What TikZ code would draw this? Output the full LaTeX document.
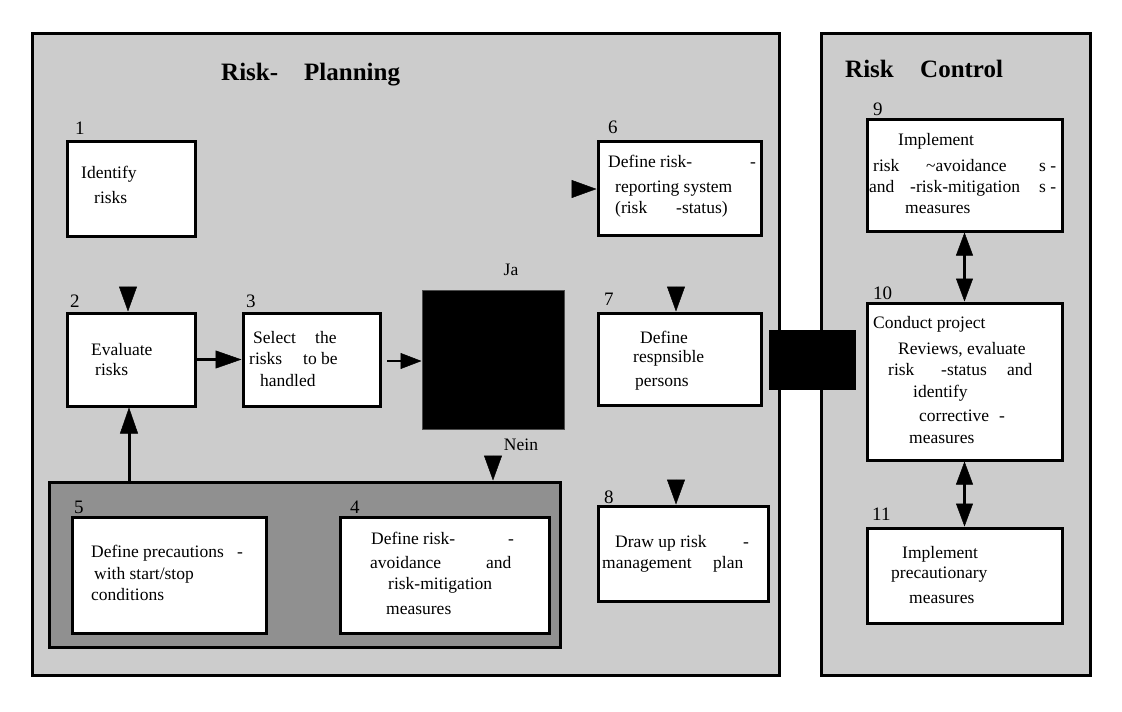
\documentclass[tikz,border=0pt]{standalone}
\usepackage{fontspec}
\setmainfont{Liberation Serif}
\usetikzlibrary{arrows.meta}
\definecolor{panelgray}{HTML}{CCCCCC}
\definecolor{contgray}{HTML}{909090}
\begin{document}
\begin{tikzpicture}[x=1pt,y=-1pt,
  panel/.style={draw=black, fill=panelgray, line width=3pt, inner sep=0pt},
  cont/.style={draw=black, fill=contgray, line width=3pt, inner sep=0pt},
  box/.style={draw=black, fill=white, line width=3pt, inner sep=0pt},
  blackbox/.style={draw=black!70, fill=black, line width=1pt, inner sep=0pt},
  txt/.style={anchor=base west, inner sep=0pt, font=\fontsize{17.5}{20}\selectfont},
  ctxt/.style={anchor=base, inner sep=0pt, font=\fontsize{17.5}{20}\selectfont},
  num/.style={anchor=base west, inner sep=0pt, font=\fontsize{19}{22}\selectfont},
  ttl/.style={anchor=base west, inner sep=0pt, font=\fontsize{25}{28}\selectfont\bfseries},
  arr/.style={line width=3pt, -{Triangle[length=26pt,width=18pt,line width=0.5pt]}},
  thinarr/.style={line width=1.5pt, -{Triangle[length=21pt,width=16pt,line width=0.5pt]}},
  headonly/.style={line width=0.5pt, -{Triangle[length=25pt,width=18pt,line width=0.5pt]}},
  dbl/.style={line width=3pt, {Triangle[length=23pt,width=17pt,line width=0.5pt]}-{Triangle[length=23pt,width=17pt,line width=0.5pt]}}
]
\useasboundingbox[fill=white] (0,0) rectangle (1122,712);

% panels
\node[panel, minimum width=747pt, minimum height=642pt] (lp) at (405.5,354) {};
\node[panel, minimum width=269pt, minimum height=642pt] (rp) at (955.5,354) {};

% titles
\node[ttl] (t1a) at (221,80) {Risk-};
\node[ttl] (t1b) at (304,80) {Planning};
\node[ttl] (t2a) at (845,77) {Risk};
\node[ttl] (t2b) at (920,77) {Control};

% container
\node[cont, minimum width=511pt, minimum height=165pt] (cont) at (304.5,564.5) {};

% boxes
\node[box, minimum width=128pt, minimum height=95pt] (b1) at (131,188.5) {};
\node[box, minimum width=128pt, minimum height=93pt] (b2) at (131,359.5) {};
\node[box, minimum width=137pt, minimum height=93pt] (b3) at (311.5,359.5) {};
\node[blackbox, minimum width=142pt, minimum height=139pt] (dec) at (493,359.5) {};
\node[box, minimum width=163pt, minimum height=94pt] (b6) at (679.5,188) {};
\node[box, minimum width=163pt, minimum height=92pt] (b7) at (679.5,359) {};
\node[box, minimum width=170pt, minimum height=95pt] (b8) at (683,553.5) {};
\node[box, minimum width=195pt, minimum height=112pt] (b9) at (964.5,175) {};
\node[box, minimum width=195pt, minimum height=157pt] (b10) at (964.5,381.5) {};
\node[box, minimum width=195pt, minimum height=95pt] (b11) at (964.5,575.5) {};
\node[box, minimum width=194pt, minimum height=116pt] (b5) at (169,575) {};
\node[box, minimum width=209pt, minimum height=116pt] (b4) at (444.5,575) {};
\node[blackbox, draw=black, minimum width=86pt, minimum height=59pt] (blk) at (812,359.5) {};

% numbers
\node[num] (n1) at (75,134) {1};
\node[num] (n2) at (70,307) {2};
\node[num] (n3) at (246,307) {3};
\node[num] (n6) at (608,133) {6};
\node[num] (n7) at (604,305) {7};
\node[num] (n8) at (604,503) {8};
\node[num] (n9) at (873,115) {9};
\node[num] (n10) at (873,299) {10};
\node[num] (n11) at (872,520) {11};
\node[num] (n5) at (74,513) {5};
\node[num] (n4) at (350,513) {4};

% texts
\node[txt] (x1a) at (81,178) {Identify};
\node[txt] (x1b) at (94,203) {risks};
\node[txt] (x2a) at (91,355) {Evaluate};
\node[txt] (x2b) at (95,375) {risks};
\node[txt] (x3a) at (253,343) {Select};
\node[txt] (x3b) at (315,343) {the};
\node[txt] (x3c) at (249,364) {risks};
\node[txt] (x3d) at (303,364) {to be};
\node[txt] (x3e) at (260,386) {handled};
\node[ctxt] (ja) at (511,275) {Ja};
\node[ctxt] (nein) at (521,450) {Nein};
\node[txt] (x6a) at (608,167) {Define risk-};
\node[txt] (x6b) at (750,167) {-};
\node[txt] (x6c) at (615,192) {reporting system};
\node[txt] (x6d) at (615,213) {(risk};
\node[txt] (x6e) at (676,213) {-status)};
\node[txt] (x7a) at (640,343) {Define};
\node[txt] (x7b) at (633,362) {respnsible};
\node[txt] (x7c) at (635,386) {persons};
\node[txt] (x8a) at (615,547) {Draw up risk};
\node[txt] (x8b) at (743,547) {-};
\node[txt] (x8c) at (602,568) {management};
\node[txt] (x8d) at (713,568) {plan};
\node[txt] (x9a) at (898,145) {Implement};
\node[txt] (x9b) at (873,171) {risk};
\node[txt] (x9c) at (926,171) {\textasciitilde avoidance};
\node[txt] (x9d) at (1039,171) {s -};
\node[txt] (x9e) at (869,192) {and};
\node[txt] (x9f) at (910,192) {-risk-mitigation};
\node[txt] (x9g) at (1039,192) {s -};
\node[txt] (x9h) at (905,213) {measures};
\node[txt] (x10a) at (873,328) {Conduct project};
\node[txt] (x10b) at (898,354) {Reviews, evaluate};
\node[txt] (x10c) at (888,375) {risk};
\node[txt] (x10d) at (941,375) {-status};
\node[txt] (x10e) at (1007,375) {and};
\node[txt] (x10f) at (913,397) {identify};
\node[txt] (x10g) at (919,421) {corrective};
\node[txt] (x10h) at (999,421) {-};
\node[txt] (x10i) at (909,443) {measures};
\node[txt] (x11a) at (902,558) {Implement};
\node[txt] (x11b) at (891,578) {precautionary};
\node[txt] (x11c) at (909,603) {measures};
\node[txt] (x5a) at (91,557) {Define precautions};
\node[txt] (x5b) at (237,557) {-};
\node[txt] (x5c) at (94,579) {with start/stop};
\node[txt] (x5d) at (91,600) {conditions};
\node[txt] (x4a) at (371,544) {Define risk-};
\node[txt] (x4b) at (508,544) {-};
\node[txt] (x4c) at (370,568) {avoidance};
\node[txt] (x4d) at (486,568) {and};
\node[txt] (x4e) at (388,589) {risk-mitigation};
\node[txt] (x4f) at (386,614) {measures};

% free ends of connectors
\coordinate (h6) at (571.5,189);
\coordinate (h2) at (128,286.5);
\coordinate (h7) at (676,286.5);
\coordinate (h8) at (676,479.5);
\coordinate (h4) at (493,455.5);
\coordinate (s3) at (387,361);
\coordinate (c5) at (129,480.5);

% connectors
\draw[headonly] (h6) -- (h6 -| b6.west);
\draw[headonly] (h2) -- (h2 |- b2.north);
\draw[headonly] (h7) -- (h7 |- b7.north);
\draw[headonly] (h8) -- (h8 |- b8.north);
\draw[headonly] (h4) -- (h4 |- cont.north);
\draw[arr] (b2.east) -- (b3.west);
\draw[thinarr] (s3) -- (s3 -| dec.west);
\draw[arr] (c5) -- (c5 |- b2.south);
\draw[dbl] (b9.south) -- (b10.north);
\draw[dbl] (b10.south) -- (b11.north);
\end{tikzpicture}
\end{document}
